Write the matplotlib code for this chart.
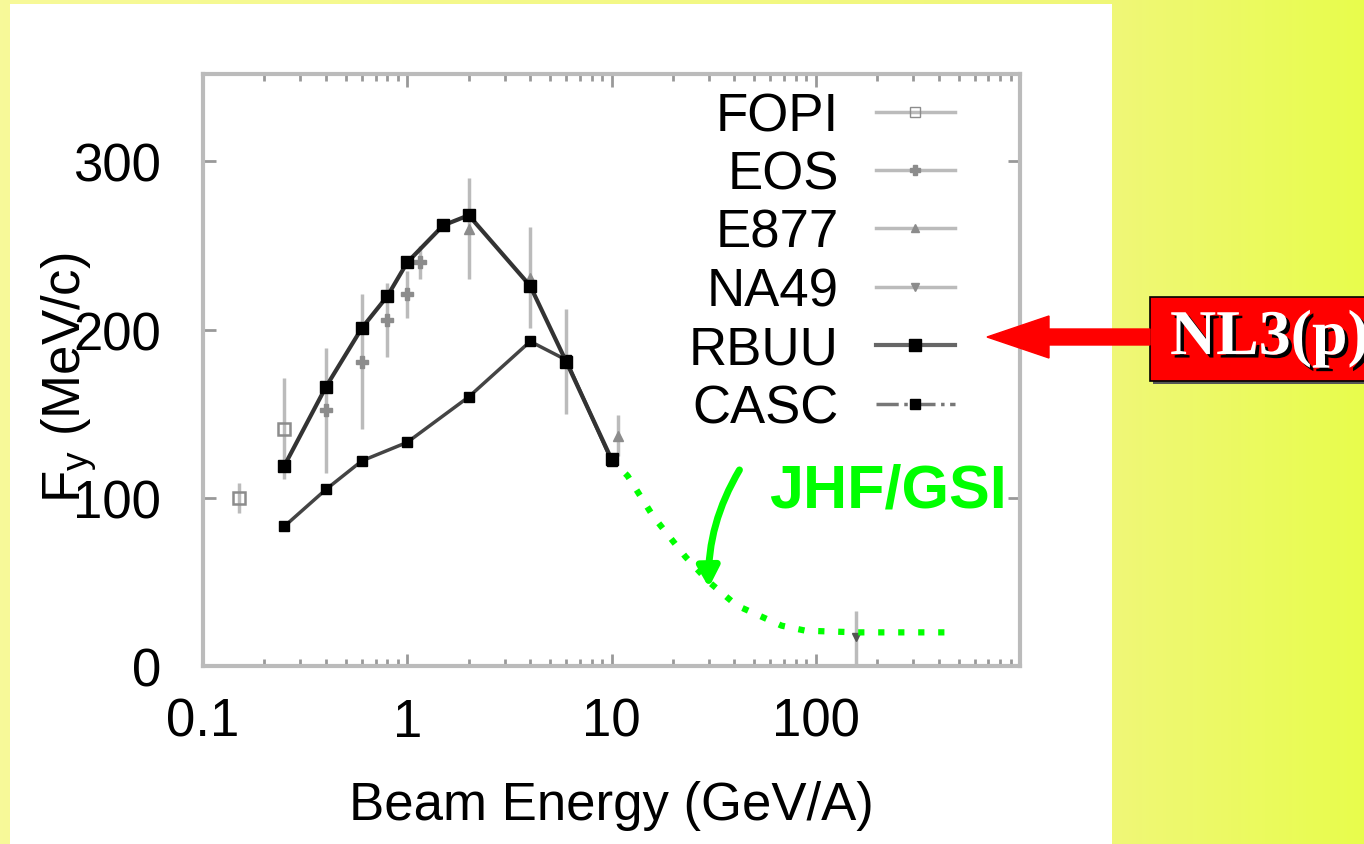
import matplotlib
matplotlib.use("Agg")
import matplotlib.pyplot as plt
import numpy as np
from matplotlib.lines import Line2D
from matplotlib.patches import Rectangle, FancyArrow
import matplotlib.patheffects as pe

plt.rcParams['font.family'] = ['Liberation Sans', 'DejaVu Sans']
plt.rcParams['mathtext.fontset'] = 'custom'
plt.rcParams['mathtext.rm'] = 'Liberation Sans'

# ---------------- data ----------------
rbuu_x = [0.25, 0.4, 0.6, 0.8, 1.0, 1.5, 2.0, 4.0, 6.0, 10.0]
rbuu_y = [119, 166, 201, 220, 240, 262, 268, 226, 181, 123]

casc_x = [0.25, 0.4, 0.6, 1.0, 2.0, 4.0, 6.0, 10.0]
casc_y = [83, 105, 122, 133, 160, 193, 182, 122]

fopi_x = [0.15, 0.25]
fopi_y = [100, 141]
fopi_e = [9, 30]

eos_x = [0.4, 0.6, 0.8, 1.0, 1.15]
eos_y = [152, 181, 206, 221, 240]
eos_e = [37, 40, 22, 14, 10]

e877_x = [2.0, 4.0, 6.0, 10.7]
e877_y = [260, 231, 181, 137]
e877_e = [30, 30, 31, 12]

na49_x = [158]
na49_y = [17]
na49_e = [16]

jhf_x = [10, 12, 16, 23, 30, 41, 68, 89, 160, 450]
jhf_y = [123, 113, 89, 65, 50, 36, 24, 21, 20, 20]

xticks = [0.1, 1, 10, 100]
xticklabels = ['0.1', '1', '10', '100']
yticks = [0, 100, 200, 300]
yticklabels = ['0', '100', '200', '300']

# ---------------- figure ----------------
W, H = 1364, 845
fig = plt.figure(figsize=(W / 100, H / 100), dpi=100)

# background gradient
bg = fig.add_axes([0, 0, 1, 1], zorder=-10)
xs = np.linspace(0, 1, 400)
c0 = np.array([0.97, 0.98, 0.60])
c1 = np.array([0.94, 0.97, 0.47])
c2 = np.array([0.91, 0.99, 0.30])
xb = 1112 / W
cols = np.where(xs[:, None] < xb,
                c0 + (c1 - c0) * (xs[:, None] / xb),
                c1 + (c2 - c1) * ((xs[:, None] - xb) / (1 - xb)))
bg.imshow(cols[None, :, :], aspect='auto', extent=[0, 1, 0, 1])
bg.add_patch(Rectangle((10 / W, 0), (1112 - 10) / W, (845 - 5) / H,
                       facecolor='white', edgecolor='none'))
bg.set_xlim(0, 1); bg.set_ylim(0, 1)
bg.axis('off')

ax = fig.add_axes([203 / W, 1 - 667 / H, (1020 - 203) / W, (667 - 75) / H])
ax.set_facecolor('none')
ax.set_xscale('log')
ax.set_xlim(0.1, 1000)
ax.set_ylim(0, 352)

gray_l = '#bbbbbb'
gray_m = '#8c8c8c'

# experimental data
ax.errorbar(fopi_x, fopi_y, yerr=fopi_e, fmt='s', mfc='none', mec=gray_m, ms=8, mew=1.8,
            ecolor=gray_l, elinewidth=2.5, capsize=0, zorder=2)
ax.errorbar(eos_x, eos_y, yerr=eos_e, fmt='P', color=gray_m, ms=8,
            ecolor=gray_l, elinewidth=2.5, capsize=0, zorder=2)
ax.errorbar(e877_x, e877_y, yerr=e877_e, fmt='^', color=gray_m, ms=7,
            ecolor=gray_l, elinewidth=2.5, capsize=0, zorder=2)
ax.errorbar(na49_x, na49_y, yerr=na49_e, fmt='v', color='#555555', ms=6,
            ecolor=gray_l, elinewidth=2.5, capsize=0, zorder=2)

# model curves
ax.plot(casc_x, casc_y, '-', color='#444444', lw=2.5, marker='s', ms=7,
        mfc='black', mec='black', zorder=3)
ax.plot(rbuu_x, rbuu_y, '-', color='#333333', lw=3, marker='s', ms=8,
        mfc='black', mec='black', zorder=4)

# JHF/GSI green dotted
ax.plot(jhf_x, jhf_y, color='#00ff00', lw=4.5, linestyle=(0, (1, 2.2)), zorder=3)
ax.annotate('', xy=(30, 45), xytext=(43, 118),
            arrowprops=dict(arrowstyle='-|>,head_length=1.2,head_width=0.65',
                            color='#00ff00', lw=5,
                            connectionstyle='arc3,rad=0.15'), zorder=5)
ax.text(59, 104, 'JHF/GSI', color='#00ff00', fontsize=44, fontweight='bold',
        ha='left', va='center', zorder=5)

# spines and ticks
for s in ax.spines.values():
    s.set_color(gray_l)
    s.set_linewidth(3)
ax.set_xticks(xticks)
ax.set_xticklabels(xticklabels)
ax.set_yticks(yticks)
ax.set_yticklabels(yticklabels)
ax.tick_params(axis='both', which='major', direction='in', length=9, width=2,
               color='#999999', labelsize=38, top=True, right=True)
ax.tick_params(axis='x', which='minor', direction='in', length=5, width=2,
               color='#999999', top=True)
ax.tick_params(axis='x', which='major', pad=22)
ax.tick_params(axis='y', which='major', pad=30)
ax.yaxis.set_minor_locator(matplotlib.ticker.NullLocator())

ax.set_xlabel('Beam Energy (GeV/A)', fontsize=38, labelpad=24)
fig.text(70 / W, 1 - 378 / H, r'F$_{\mathrm{y}}$ (MeV/c)', fontsize=38, rotation=90,
         ha='center', va='center')

# legend
handles = [
    Line2D([], [], color=gray_l, lw=2.5, marker='s', mfc='none', mec=gray_m, ms=7),
    Line2D([], [], color=gray_l, lw=2.5, marker='P', mfc=gray_m, mec=gray_m, ms=7),
    Line2D([], [], color=gray_l, lw=2.5, marker='^', mfc=gray_m, mec=gray_m, ms=6),
    Line2D([], [], color=gray_l, lw=2.5, marker='v', mfc=gray_m, mec=gray_m, ms=6),
    Line2D([], [], color='#666666', lw=3, marker='s', mfc='black', mec='black', ms=8),
    Line2D([], [], color='#777777', lw=2.5, linestyle='-.', marker='s', mfc='black',
           mec='black', ms=7),
]
labels = ['FOPI', 'EOS', 'E877', 'NA49', 'RBUU', 'CASC']
leg = ax.legend(handles, labels, loc='upper right', bbox_to_anchor=(955 / W, 1 - 92 / H),
                bbox_transform=fig.transFigure, frameon=False, markerfirst=False,
                fontsize=38, handlelength=1.5, handletextpad=0.7, labelspacing=0.16,
                borderpad=0, borderaxespad=0)

# NL3(p) label with red arrow
fig.patches.append(Rectangle((1150 / W, 1 - 382 / H), (W - 1150 + 10) / W, 84 / H,
                             transform=fig.transFigure, facecolor='#ff0000',
                             edgecolor='black', lw=1.2, zorder=5,
                             path_effects=[pe.withSimplePatchShadow(offset=(2, -2),
                                                                    shadow_rgbFace='#555555',
                                                                    alpha=1)]))
fig.patches.append(FancyArrow(1150 / W, 1 - 338 / H, -(1150 - 987) / W, 0,
                              width=16 / H, head_width=42 / H, head_length=62 / W,
                              length_includes_head=True, transform=fig.transFigure,
                              color='#ff0000', zorder=5))
fig.text(1170 / W, 1 - 340 / H, 'NL3(p)', fontsize=46, fontweight='bold',
         family='Liberation Serif', color='white', ha='left',
         va='center', zorder=6,
         path_effects=[pe.withSimplePatchShadow(offset=(2.5, -2.5),
                                                shadow_rgbFace='black', alpha=1)])

fig.savefig('out.png', dpi=100)
